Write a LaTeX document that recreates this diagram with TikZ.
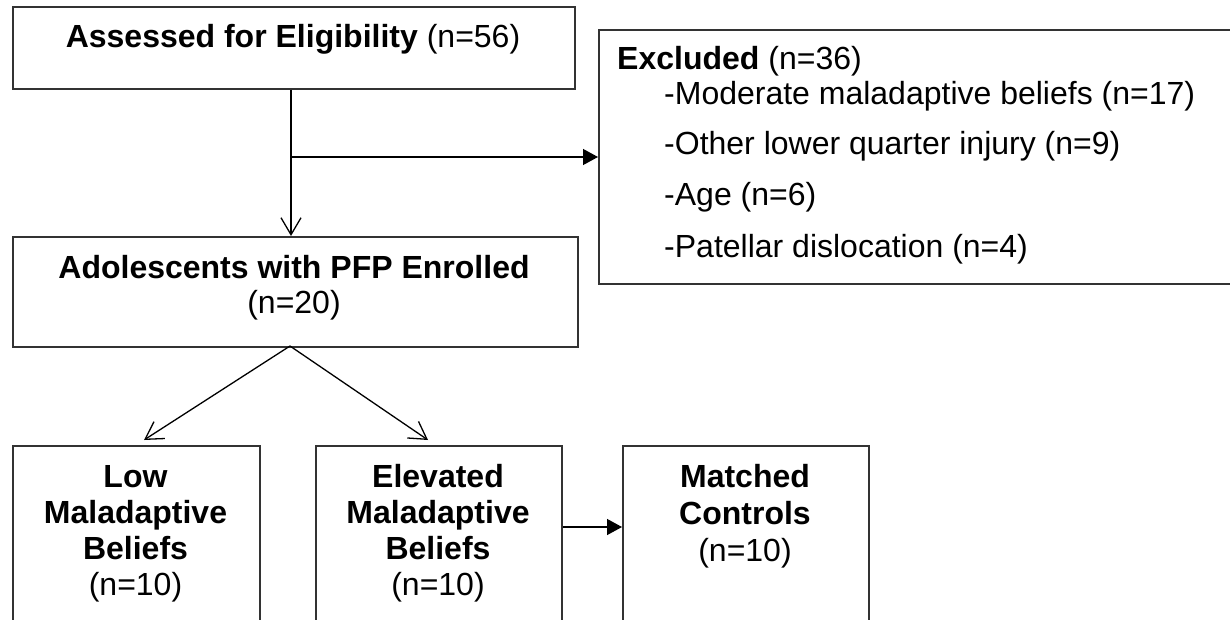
\documentclass[tikz,border=0pt]{standalone}
\usepackage{fontspec}
\setmainfont{Liberation Sans}
\usetikzlibrary{arrows.meta}
\begin{document}
\begin{tikzpicture}[x=1pt,y=-1pt,
  box/.style={draw=black!80, line width=1.6pt, inner sep=0pt, anchor=north west},
  txt/.style={anchor=base, inner sep=0pt, font=\fontsize{32}{38}\selectfont},
  ltxt/.style={txt, anchor=base west},
  conn/.style={line width=1.3pt, black},
  openarrow/.style={conn, -{Straight Barb[length=17pt,width=20pt]}},
  fillarrow/.style={conn, -{Triangle[length=15pt,width=16pt]}}]
\path[use as bounding box] (0,0) rectangle (1230,619);
\begin{scope}
\clip (0,0) rectangle (1230,619);
% boxes
\node[box, minimum width=562pt, minimum height=82pt] (A) at (12,6) {};
\node[box, minimum width=660pt, minimum height=254pt] (X) at (598,29) {};
\node[box, minimum width=565pt, minimum height=110pt] (B) at (12,236) {};
\node[box, minimum width=247pt, minimum height=220pt] (L) at (12,445) {};
\node[box, minimum width=246pt, minimum height=220pt] (E) at (315,445) {};
\node[box, minimum width=246pt, minimum height=220pt] (M) at (622,445) {};
% texts
\node[txt] (tA) at (293,47) {\textbf{Assessed for Eligibility} (n=56)};
\node[ltxt] (tX0) at (617,69) {\textbf{Excluded} (n=36)};
\node[ltxt] (tX1) at (664,104) {-Moderate maladaptive beliefs (n=17)};
\node[ltxt] (tX2) at (664,154) {-Other lower quarter injury (n=9)};
\node[ltxt] (tX3) at (664,205) {-Age (n=6)};
\node[ltxt] (tX4) at (664,257) {-Patellar dislocation (n=4)};
\node[txt] (tB1) at (294,278) {\textbf{Adolescents with PFP Enrolled}};
\node[txt] (tB2) at (294,313) {(n=20)};
\node[txt] (tL1) at (135.5,487) {\textbf{Low}};
\node[txt] (tL2) at (135.5,523) {\textbf{Maladaptive}};
\node[txt] (tL3) at (135.5,559) {\textbf{Beliefs}};
\node[txt] (tL4) at (135.5,595) {(n=10)};
\node[txt] (tE1) at (438,487) {\textbf{Elevated}};
\node[txt] (tE2) at (438,523) {\textbf{Maladaptive}};
\node[txt] (tE3) at (438,559) {\textbf{Beliefs}};
\node[txt] (tE4) at (438,595) {(n=10)};
\node[txt] (tM1) at (745,487) {\textbf{Matched}};
\node[txt] (tM2) at (745,524) {\textbf{Controls}};
\node[txt] (tM3) at (745,561) {(n=10)};
% connectors
\coordinate (br) at (291,157);
\coordinate (apex) at (290,346);
\coordinate (tipL) at (144,440);
\coordinate (tipE) at (428,440);
\coordinate (eout) at (563,527);
\draw[openarrow] (291,0 |- A.south) -- (291,0 |- B.north);
\draw[fillarrow] (br) -- (br -| X.west);
\draw[openarrow] (apex) -- (tipL);
\draw[openarrow] (apex) -- (tipE);
\draw[fillarrow] (eout) -- (eout -| M.west);
\end{scope}
\end{tikzpicture}
\end{document}
